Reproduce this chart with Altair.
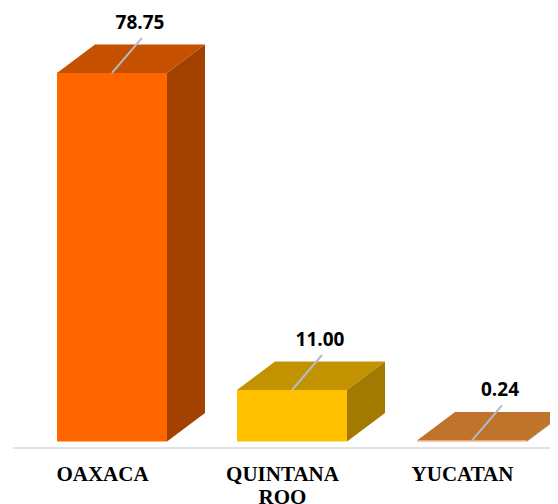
import json
import altair as alt
import pandas as pd

categories = ["OAXACA", "QUINTANA ROO", "YUCATAN"]
axis_lines = [["OAXACA"], ["QUINTANA", "ROO"], ["YUCATAN"]]
values = [78.75, 11.00, 0.24]
labels = ["78.75", "11.00", "0.24"]
front_colors = ["#FF6600", "#FFC000", "#F0A060"]
top_colors = ["#C55000", "#C29200", "#C0732A"]
side_colors = ["#A34200", "#A37A00", "#A05F20"]

BAR_W = 110 / 180
DEPTH_X = 38 / 180
DEPTH_Y = 28.5 / 4.68

x_scale = alt.Scale(domain=[-104 / 180, 438 / 180], nice=False, zero=False)
y_scale = alt.Scale(domain=[0, 433.5 / 4.68], nice=False, zero=False)

front_rows, face_rows, leader_rows, label_rows = [], [], [], []
for i, v in enumerate(values):
    x0, x1 = i - BAR_W / 2, i + BAR_W / 2
    front_rows.append(dict(k=str(i), x=x0, x2=x1, y=0, y2=v, c=front_colors[i]))
    key = f"top{i}"
    for px, lo, hi in [
        (x0, v, v),
        (x0 + DEPTH_X, v, v + DEPTH_Y),
        (x1, v, v + DEPTH_Y),
        (x1 + DEPTH_X, v + DEPTH_Y, v + DEPTH_Y),
    ]:
        face_rows.append(dict(k=key, x=px, y=lo, y2=hi, c=top_colors[i]))
    key = f"side{i}"
    for px, lo, hi in [(x1, 0, v), (x1 + DEPTH_X, DEPTH_Y, v + DEPTH_Y)]:
        face_rows.append(dict(k=key, x=px, y=lo, y2=hi, c=side_colors[i]))
    leader_rows.append(dict(x=i, x2=i + 30 / 180, y=v, y2=v + 35 / 4.68))
    label_rows.append(dict(x=i + 28 / 180, y=v + 50 / 4.68, t=labels[i]))

label_expr = f"{json.dumps(axis_lines)}[datum.value]"
x_axis = alt.Axis(
    values=[0, 1, 2],
    labelExpr=label_expr,
    title=None,
    domain=False,
    ticks=False,
    grid=False,
    labelFont="Liberation Serif",
    labelFontWeight="bold",
    labelFontSize=21,
    labelColor="#000000",
    labelLineHeight=23,
    labelOffset=-10,
    labelPadding=22,
    labelOverlap=False,
    labelFlush=False,
    labelBound=False,
    labelAlign="center",
    labelBaseline="top",
)
X = alt.X("x:Q", scale=x_scale, axis=x_axis)
Y = alt.Y("y:Q", scale=y_scale, axis=None)

front = (
    alt.Chart(pd.DataFrame(front_rows))
    .mark_rect()
    .encode(x=X, x2="x2:Q", y=Y, y2="y2:Q", color=alt.Color("c:N", scale=None))
)
faces = (
    alt.Chart(pd.DataFrame(face_rows))
    .mark_area(interpolate="linear", opacity=1)
    .encode(x=X, y=Y, y2="y2:Q", detail="k:N", color=alt.Color("c:N", scale=None))
)
baseline = (
    alt.Chart(pd.DataFrame([dict(x=-99 / 180, x2=441 / 180, y=-6.5 / 4.68)]))
    .mark_rule(color="#E0E3EA", strokeWidth=2)
    .encode(x=X, x2="x2:Q", y=Y)
)
leaders = (
    alt.Chart(pd.DataFrame(leader_rows))
    .mark_rule(color="#B0BCCB", strokeWidth=2)
    .encode(x=X, x2="x2:Q", y=Y, y2="y2:Q")
)
texts = (
    alt.Chart(pd.DataFrame(label_rows))
    .mark_text(font="Open Sans", fontWeight="bold", fontSize=19, color="#000000", baseline="middle", align="center")
    .encode(x=X, y=Y, text="t:N")
)

chart = (
    alt.layer(baseline, faces, front, leaders, texts)
    .properties(
        width=542,
        height=433.5,
        autosize=alt.AutoSizeParams(type="none"),
        padding={"left": 0, "top": 0, "right": 0, "bottom": 62.5},
        background="#FFFFFF",
    )
    .configure_view(stroke=None)
)
chart.save("out.html", embed_options={"renderer": "svg", "actions": False})
